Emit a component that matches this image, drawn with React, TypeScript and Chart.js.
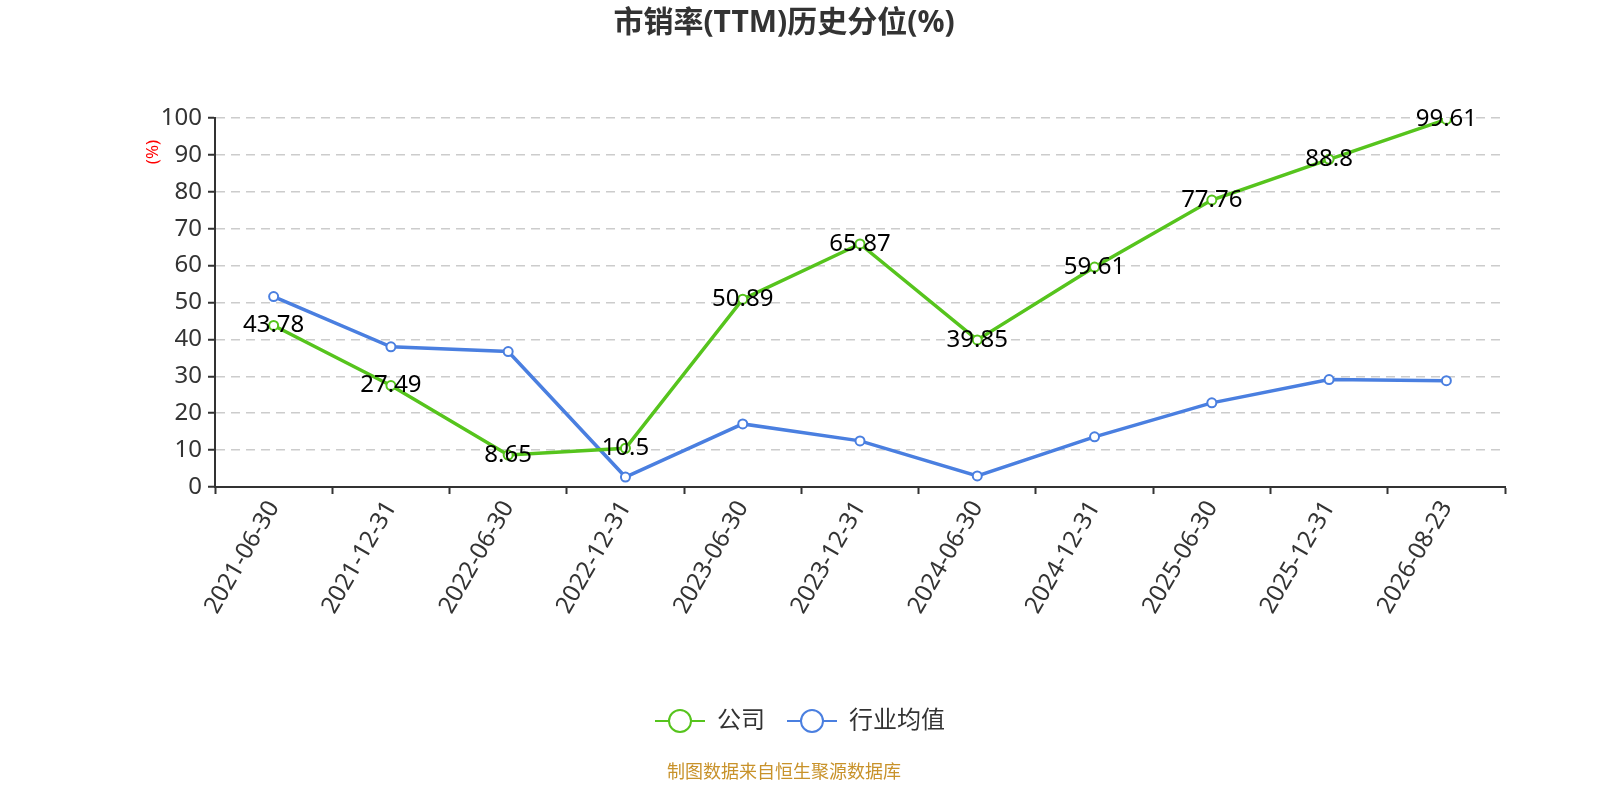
import React, { useEffect, useRef } from 'react';
import { Chart, registerables } from 'chart.js';

Chart.register(...registerables);

const dates = [
  '2021-06-30', '2021-12-31', '2022-06-30', '2022-12-31', '2023-06-30', '2023-12-31',
  '2024-06-30', '2024-12-31', '2025-06-30', '2025-12-31', '2026-08-23',
];
const companyValues = [43.78, 27.49, 8.65, 10.5, 50.89, 65.87, 39.85, 59.61, 77.76, 88.8, 99.61];
const industryValues = [51.6, 38.0, 36.7, 2.7, 17.1, 12.5, 3.0, 13.6, 22.8, 29.1, 28.8];

const GREEN = '#56c41d';
const BLUE = '#4a7fe0';
const FONT = "'Noto Sans', 'Noto Sans CJK SC', sans-serif";

/** legend marker: short line with hollow circle in the middle */
function legendMarker(color: string) {
  const c = document.createElement('canvas');
  c.width = 50;
  c.height = 26;
  const g = c.getContext('2d')!;
  g.strokeStyle = color;
  g.lineWidth = 2;
  g.beginPath();
  g.moveTo(0, 13);
  g.lineTo(50, 13);
  g.stroke();
  g.beginPath();
  g.arc(25, 13, 11, 0, Math.PI * 2);
  g.fillStyle = '#fff';
  g.fill();
  g.stroke();
  return c;
}

const extrasPlugin = {
  id: 'extras',
  afterDatasetsDraw(chart: Chart) {
    const ctx = chart.ctx;
    const meta = chart.getDatasetMeta(0);
    ctx.save();
    ctx.font = `24px ${FONT}`;
    ctx.fillStyle = '#000';
    ctx.textAlign = 'center';
    ctx.textBaseline = 'middle';
    meta.data.forEach((pt, i) => {
      ctx.fillText(String(companyValues[i]), pt.x, pt.y);
    });
    ctx.restore();
  },
  afterDraw(chart: Chart) {
    const ctx = chart.ctx;
    // title
    ctx.save();
    ctx.font = `bold 30px ${FONT}`;
    ctx.fillStyle = '#333';
    ctx.textAlign = 'center';
    ctx.textBaseline = 'middle';
    ctx.fillText('市销率(TTM)历史分位(%)', chart.width / 2, 23);
    ctx.restore();
    // y axis unit
    ctx.save();
    ctx.translate(153, 152);
    ctx.rotate(-Math.PI / 2);
    ctx.font = `17px ${FONT}`;
    ctx.fillStyle = '#ff0000';
    ctx.textAlign = 'center';
    ctx.textBaseline = 'middle';
    ctx.fillText('(%)', 0, 0);
    ctx.restore();
    // source note
    ctx.save();
    ctx.font = `18px ${FONT}`;
    ctx.fillStyle = '#c8922a';
    ctx.textAlign = 'center';
    ctx.textBaseline = 'middle';
    ctx.fillText('制图数据来自恒生聚源数据库', chart.width / 2, 773);
    ctx.restore();
  },
};

export default function App() {
  const canvasRef = useRef<HTMLCanvasElement>(null);

  useEffect(() => {
    document.body.style.margin = '0';
    if (!canvasRef.current) return;
    const greenMarker = legendMarker(GREEN);
    const blueMarker = legendMarker(BLUE);

    const chart = new Chart(canvasRef.current, {
      type: 'line',
      data: {
        labels: dates,
        datasets: [
          {
            label: '公司',
            data: companyValues,
            borderColor: GREEN,
            backgroundColor: '#fff',
            borderWidth: 3.5,
            pointRadius: 4.5,
            pointBorderWidth: 2,
            pointBorderColor: GREEN,
            pointBackgroundColor: '#fff',
            pointStyle: 'circle',
          },
          {
            label: '行业均值',
            data: industryValues,
            borderColor: BLUE,
            backgroundColor: '#fff',
            borderWidth: 3.5,
            pointRadius: 4.5,
            pointBorderWidth: 2,
            pointBorderColor: BLUE,
            pointBackgroundColor: '#fff',
            pointStyle: 'circle',
          },
        ],
      },
      options: {
        animation: false,
        responsive: true,
        maintainAspectRatio: false,
        layout: { padding: { left: 95, right: 63, bottom: 57, top: 118 } },
        plugins: {
          title: { display: false },
          legend: {
            position: 'bottom',
            labels: {
              color: '#333',
              font: { family: FONT, size: 24 },
              usePointStyle: true,
              pointStyleWidth: 50,
              padding: 22,
              generateLabels: (ch: Chart) =>
                ch.data.datasets.map((ds, i) => ({
                  text: ds.label as string,
                  fontColor: '#333',
                  pointStyle: i === 0 ? greenMarker : blueMarker,
                  datasetIndex: i,
                  hidden: false,
                  lineWidth: 0,
                  strokeStyle: 'transparent',
                  fillStyle: 'transparent',
                })),
            },
          },
          tooltip: { enabled: false },
        },
        scales: {
          x: {
            offset: true,
            afterFit: (scale: any) => {
              scale.height = 200;
            },
            grid: {
              offset: true,
              drawOnChartArea: false,
              drawTicks: true,
              tickLength: 7,
              tickColor: '#333',
              tickWidth: 2,
            },
            border: { color: '#333', width: 2 },
            ticks: {
              color: '#333',
              font: { family: FONT, size: 24 },
              maxRotation: 60,
              minRotation: 60,
              autoSkip: false,
              padding: 2,
            },
          },
          y: {
            min: 0,
            max: 100,
            afterFit: (scale: any) => {
              scale.width = 120;
            },
            ticks: {
              stepSize: 10,
              color: '#333',
              font: { family: FONT, size: 24 },
              padding: 6,
            },
            grid: {
              color: '#cccccc',
              lineWidth: 1.5,
              tickColor: '#333',
              tickLength: 7,
              tickWidth: 2,
            },
            border: { color: '#333', width: 2, dash: [9, 6] },
          },
        },
      },
      plugins: [extrasPlugin],
    });

    return () => {
      chart.destroy();
    };
  }, []);

  return (
    <div style={{ width: 1568, height: 800, position: 'relative' }}>
      <canvas ref={canvasRef} />
    </div>
  );
}
